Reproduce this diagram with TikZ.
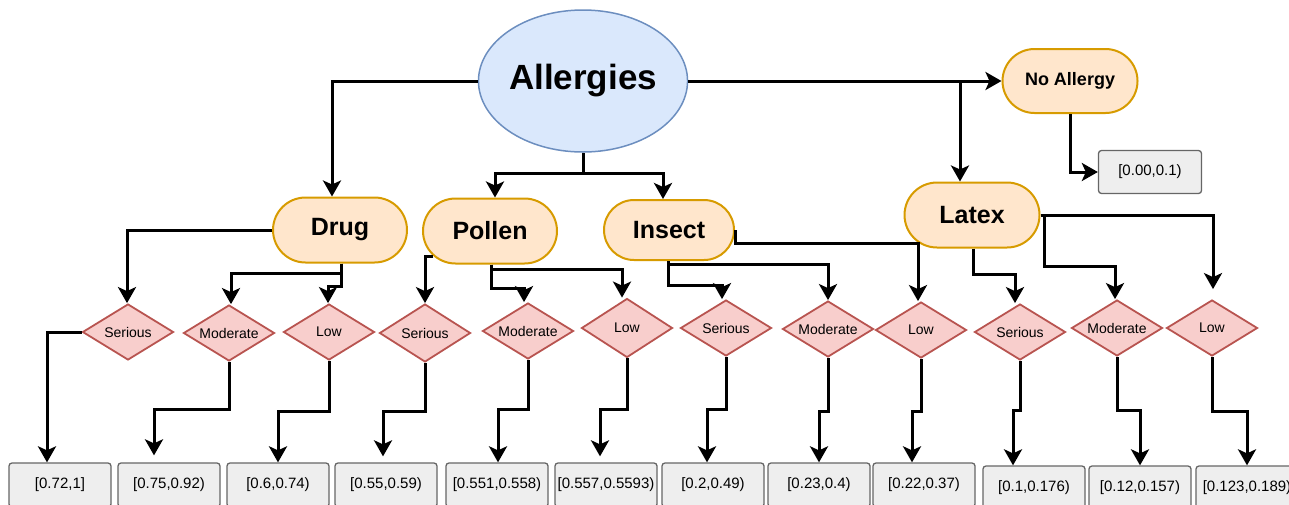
\documentclass[tikz,border=0pt]{standalone}
\usepackage{fontspec}
\setmainfont{Liberation Sans}
\usetikzlibrary{shapes.geometric,shapes.misc,arrows.meta}
\definecolor{blueF}{HTML}{DAE8FC}
\definecolor{blueS}{HTML}{6C8EBF}
\definecolor{orF}{HTML}{FFE6CC}
\definecolor{orS}{HTML}{D79B00}
\definecolor{pkF}{HTML}{F8CECC}
\definecolor{pkS}{HTML}{B85450}
\definecolor{gyF}{HTML}{EEEEEE}
\definecolor{gyS}{HTML}{666666}
\tikzset{
 rootnode/.style={ellipse,draw=blueS,fill=blueF,line width=1.5pt,minimum width=197pt,minimum height=142pt,inner sep=0pt,font=\fontsize{35}{40}\selectfont\bfseries},
 catnode/.style={rounded rectangle,draw=orS,fill=orF,line width=2pt,minimum height=65pt,minimum width=134pt,inner sep=0pt,font=\fontsize{25}{30}\selectfont\bfseries},
 levelnode/.style={diamond,draw=pkS,fill=pkF,line width=1.8pt,aspect=1.6,inner sep=0pt,minimum width=91pt,minimum height=56pt,font=\fontsize{14}{16}\selectfont},
 rangebox/.style={rectangle,rounded corners=3pt,draw=gyS,fill=gyF,line width=1.3pt,minimum width=102pt,minimum height=44pt,inner sep=0pt,font=\fontsize{15}{18}\selectfont},
 arr/.style={line width=3pt,-{Stealth[length=16pt,width=18pt,inset=4pt]}},
}
\begin{document}
\begin{tikzpicture}[x=1pt,y=-1pt]
\useasboundingbox (0,0) rectangle (1289,504);
\clip (0,0) rectangle (1289,504);
% top level
\node[rootnode] (all) at (583,81) {Allergies};
\node[catnode,minimum width=135pt,minimum height=64pt,font=\fontsize{18}{22}\selectfont\bfseries] (noal) at (1070,81) {No Allergy};
\node[rangebox,minimum width=103pt,minimum height=43pt] (nabox) at (1150,172) {[0.00,0.1)};
% categories
\node[catnode] (drug) at (340,230) {Drug};
\node[catnode] (pollen) at (490,231) {Pollen};
\node[catnode,minimum width=130pt,minimum height=60pt] (insect) at (669,230) {Insect};
\node[catnode,minimum width=135pt] (latex) at (972,215) {Latex};
% levels
\node[levelnode] (d1s) at (128,332) {Serious};
\node[levelnode] (d1m) at (229,333) {Moderate};
\node[levelnode] (d1l) at (329,332) {Low};
\node[levelnode,minimum height=58pt] (d2s) at (425,333) {Serious};
\node[levelnode] (d2m) at (528,331) {Moderate};
\node[levelnode,minimum height=59pt] (d2l) at (627,328) {Low};
\node[levelnode] (d3s) at (726,328) {Serious};
\node[levelnode] (d3m) at (828,329) {Moderate};
\node[levelnode] (d3l) at (921,330) {Low};
\node[levelnode] (d4s) at (1020,332) {Serious};
\node[levelnode] (d4m) at (1117,328) {Moderate};
\node[levelnode] (d4l) at (1212,328) {Low};
% ranges
\node[rangebox] (b1) at (60,485) {[0.72,1]};
\node[rangebox] (b2) at (169,485) {[0.75,0.92)};
\node[rangebox] (b3) at (278,485) {[0.6,0.74)};
\node[rangebox] (b4) at (386,485) {[0.55,0.59)};
\node[rangebox] (b5) at (497,485) {[0.551,0.558)};
\node[rangebox] (b6) at (606,485) {[0.557,0.5593)};
\node[rangebox] (b7) at (713,485) {[0.2,0.49)};
\node[rangebox] (b8) at (819,485) {[0.23,0.4)};
\node[rangebox] (b9) at (924,485) {[0.22,0.37)};
\node[rangebox] (b10) at (1034,488) {[0.1,0.176)};
\node[rangebox] (b11) at (1140,488) {[0.12,0.157)};
\node[rangebox] (b12) at (1247,488) {[0.123,0.189)};
% connectors from root
\coordinate (j1) at (960,81);
\draw[arr] (all.west) -| ([xshift=-8pt]drug.north);
\draw[arr] (all.east) -- (noal.west);
\draw[arr] (j1) -- (j1 |- latex.north);
\draw[arr] (noal.south) |- (nabox.west);
\draw[arr] (all.south) -- ++(0,21) -| ([xshift=5pt]pollen.north);
\draw[arr] (all.south) -- ++(0,21) -| ([xshift=-6pt]insect.north);
% drug
\draw[arr] (drug.west) -| ([xshift=-1pt]d1s.north);
\draw[arr] ([xshift=1pt]drug.south) -- ++(0,10) -| ([xshift=2pt]d1m.north);
\draw[arr] ([xshift=1pt]drug.south) -- ++(0,23) -| ([xshift=-1pt]d1l.north);
% pollen
\draw[arr] (pollen.204) -| (d2s.north);
\draw[arr] ([xshift=1pt]pollen.south) -- ++(0,24) -| ([xshift=-4pt]d2m.north);
\draw[arr] ([xshift=1pt]pollen.south) -- ++(0,5) -| ([xshift=-5pt]d2l.north);
% insect
\draw[arr] ([xshift=-1pt]insect.south) -- ++(0,24) -| ([xshift=-4pt]d3s.north);
\draw[arr] ([xshift=-1pt]insect.south) -- ++(0,3) -| (d3m.north);
\draw[arr] (insect.east) -- ++(0,13) -| ([xshift=-3pt]d3l.north);
% latex
\draw[arr] ([xshift=1pt]latex.south) -- ++(0,26) -| ([xshift=-5pt]d4s.north);
\draw[arr,shorten >=10pt] (latex.east) -| ([xshift=1pt]d4l.north);
\draw[arr] ([xshift=4pt]latex.east) -- ++(0,51) -| ([xshift=-2pt]d4m.north);
% levels to ranges
\draw[arr] (d1s.west) -| ([xshift=-13pt]b1.north);
\draw[arr,shorten >=7pt] (d1m.south) -- ++(0,48) -| ([xshift=-15pt]b2.north);
\draw[arr] (d1l.south) -- ++(0,51) -| (b3.north);
\draw[arr,shorten >=6pt] (d2s.south) -- ++(0,49) -| ([xshift=-3pt]b4.north);
\draw[arr] (d2m.south) -- ++(0,50) -| ([xshift=1pt]b5.north);
\draw[arr,shorten >=6pt] (d2l.south) -- ++(0,51) -| ([xshift=-6pt]b6.north);
\draw[arr] (d3s.south) -- ++(0,53) -| ([xshift=-6pt]b7.north);
\draw[arr] (d3m.south) -- ++(0,54) -| (b8.north);
\draw[arr] (d3l.south) -- ++(0,53) -| ([xshift=-12pt]b9.north);
\draw[arr] (d4s.south) -- ++(0,50) -| ([xshift=-21pt]b10.north);
\draw[arr] (d4m.south) -- ++(0,54) -| (b11.north);
\draw[arr] (d4l.south) -- ++(0,55) -| (b12.north);
\end{tikzpicture}
\end{document}
